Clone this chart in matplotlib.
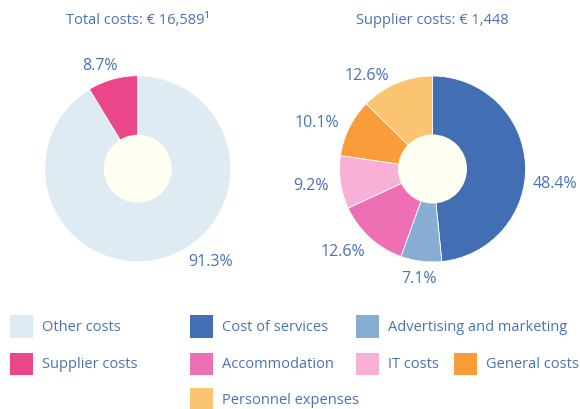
import matplotlib
matplotlib.use("Agg")
import matplotlib.pyplot as plt
from matplotlib.patches import Rectangle, Circle

plt.rcParams["font.family"] = ["Open Sans", "DejaVu Sans"]

# data
total_labels = ["Other costs", "Supplier costs"]
total_values = [91.3, 8.7]
total_colors = ["#DFEBF3", "#EC468A"]

supplier_labels = ["Cost of services", "Advertising and marketing", "Accommodation",
                   "IT costs", "General costs", "Personnel expenses"]
supplier_values = [48.4, 7.1, 12.6, 9.2, 10.1, 12.6]
supplier_colors = ["#426EB4", "#87ADD3", "#EE6FB4", "#F8B0D6", "#FB9C3B", "#FBC470"]

total_title = "Total costs: € 16,589¹"
supplier_title = "Supplier costs: € 1,448"

text_color = "#4A72B8"
hole_color = "#FFFFF2"

# label positions (in units of pie radius)
total_label_pos = [(0.78, -0.99), (-0.405, 1.115)]
supplier_label_pos = [(1.32, -0.15), (-0.14, -1.17), (-0.96, -0.88),
                      (-1.31, -0.17), (-1.24, 0.51), (-0.71, 1.01)]

W, H = 580, 410
fig = plt.figure(figsize=(5.8, 4.1), dpi=100)

R = 93.0
lim = 1.6
side = 2 * lim * R


def donut(cx, cy, values, colors, label_pos, title, hole_r):
    ax = fig.add_axes([(cx - side / 2) / W, (H - cy - side / 2) / H, side / W, side / H])
    ax.pie(values, colors=colors, startangle=90, counterclock=False, radius=1.0,
           wedgeprops=dict(edgecolor="white", linewidth=0.6))
    ax.add_patch(Circle((0, 0), hole_r, facecolor=hole_color, edgecolor="none", zorder=5))
    for v, (x, y) in zip(values, label_pos):
        ax.text(x, y, f"{v:.1f}%", ha="center", va="center", color=text_color, fontsize=11.5)
    ax.set_xlim(-lim, lim)
    ax.set_ylim(-lim, lim)
    ax.set_aspect("equal")
    ax.axis("off")
    fig.text(cx / W, 1 - 20 / H, title, ha="center", va="center", color=text_color, fontsize=10.5)


donut(137.7, 169.7, total_values, total_colors, total_label_pos, total_title, 34 / R)
donut(432.5, 170.0, supplier_values, supplier_colors, supplier_label_pos, supplier_title, 34.5 / R)

# legend (label, colour, square left x, row centre y) in pixels
legend_items = [
    ("Other costs", total_colors[0], 10, 327.5),
    ("Supplier costs", total_colors[1], 10, 365),
    ("Cost of services", supplier_colors[0], 190, 327.5),
    ("Advertising and marketing", supplier_colors[1], 356, 327.5),
    ("Accommodation", supplier_colors[2], 190, 365),
    ("IT costs", supplier_colors[3], 356, 365),
    ("General costs", supplier_colors[4], 454, 365),
    ("Personnel expenses", supplier_colors[5], 190, 400.5),
]
sq = 22.7
for label, color, x, y in legend_items:
    fig.patches.append(Rectangle((x / W, (H - y - sq / 2) / H), sq / W, sq / H,
                                 transform=fig.transFigure, facecolor=color, edgecolor="none"))
    fig.text((x + 32.5) / W, 1 - y / H, label, ha="left", va="center", color=text_color, fontsize=10.5)

fig.savefig("out.png", dpi=100, facecolor="white")
